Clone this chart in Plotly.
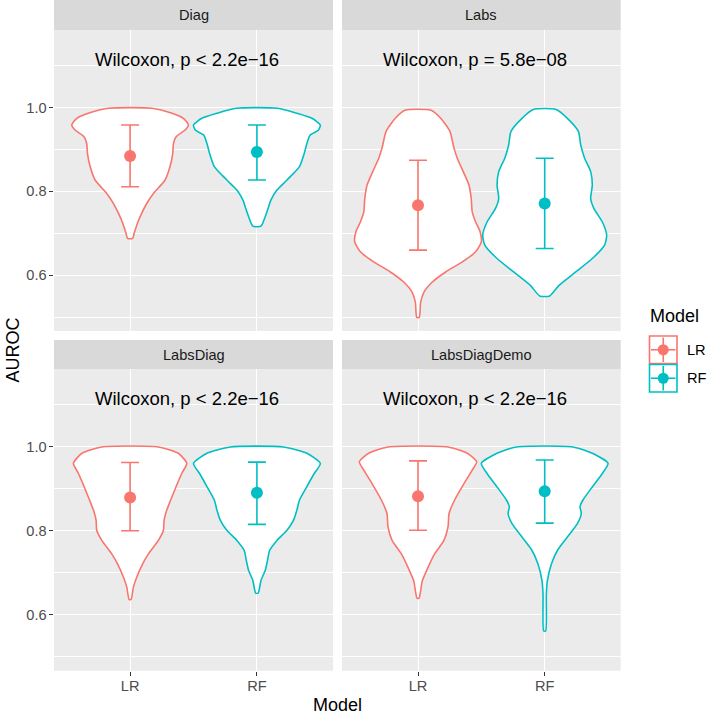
import plotly.graph_objects as go

# ---------------- data ----------------
panels = ["Diag", "Labs", "LabsDiag", "LabsDiagDemo"]
models = ["LR", "RF"]
p_labels = ["Wilcoxon, p < 2.2e\u221216", "Wilcoxon, p = 5.8e\u221208",
            "Wilcoxon, p < 2.2e\u221216", "Wilcoxon, p < 2.2e\u221216"]

# violin outlines: AUROC levels (top -> bottom) and half-widths (x units)
diag_lr_y = [0.998, 0.986, 0.974, 0.958, 0.946, 0.930, 0.914, 0.890, 0.859, 0.827, 0.795, 0.771, 0.748, 0.724, 0.700, 0.688]
diag_lr_w = [0.171, 0.330, 0.420, 0.460, 0.434, 0.363, 0.342, 0.336, 0.315, 0.276, 0.184, 0.131, 0.092, 0.058, 0.032, 0.020]
diag_rf_y = [0.998, 0.986, 0.974, 0.958, 0.946, 0.934, 0.914, 0.890, 0.859, 0.827, 0.803, 0.779, 0.763, 0.740, 0.717]
diag_rf_w = [0.163, 0.315, 0.434, 0.500, 0.486, 0.420, 0.394, 0.373, 0.336, 0.237, 0.158, 0.110, 0.092, 0.066, 0.032]

labs_lr_y = [0.993, 0.974, 0.943, 0.903, 0.879, 0.847, 0.815, 0.783, 0.751, 0.727, 0.704, 0.680, 0.656, 0.632, 0.608, 0.584, 0.560, 0.536, 0.500]
labs_lr_w = [0.103, 0.179, 0.252, 0.284, 0.310, 0.357, 0.402, 0.420, 0.428, 0.455, 0.490, 0.500, 0.455, 0.350, 0.218, 0.113, 0.047, 0.021, 0.010]
labs_rf_y = [0.995, 0.974, 0.943, 0.911, 0.879, 0.847, 0.815, 0.783, 0.759, 0.727, 0.696, 0.672, 0.640, 0.608, 0.576, 0.551]
labs_rf_w = [0.090, 0.179, 0.266, 0.284, 0.315, 0.363, 0.376, 0.363, 0.389, 0.455, 0.489, 0.473, 0.376, 0.245, 0.113, 0.040]

labsdiag_lr_y = [0.999, 0.984, 0.960, 0.936, 0.905, 0.873, 0.849, 0.825, 0.801, 0.777, 0.745, 0.722, 0.690, 0.666, 0.637]
labsdiag_lr_w = [0.223, 0.380, 0.447, 0.407, 0.363, 0.320, 0.289, 0.268, 0.263, 0.223, 0.145, 0.100, 0.053, 0.026, 0.008]
labsdiag_rf_y = [0.999, 0.984, 0.960, 0.936, 0.905, 0.873, 0.849, 0.825, 0.801, 0.777, 0.753, 0.730, 0.706, 0.682, 0.652]
labsdiag_rf_w = [0.210, 0.394, 0.500, 0.452, 0.394, 0.336, 0.315, 0.289, 0.237, 0.158, 0.100, 0.084, 0.066, 0.032, 0.010]

labsdiagdemo_lr_y = [0.999, 0.984, 0.964, 0.944, 0.912, 0.873, 0.841, 0.809, 0.777, 0.745, 0.713, 0.681, 0.640]
labsdiagdemo_lr_w = [0.237, 0.389, 0.463, 0.428, 0.363, 0.289, 0.245, 0.237, 0.205, 0.131, 0.079, 0.034, 0.008]
labsdiagdemo_rf_y = [0.999, 0.984, 0.960, 0.936, 0.904, 0.873, 0.857, 0.841, 0.817, 0.785, 0.753, 0.721, 0.681, 0.649, 0.562]
labsdiagdemo_rf_w = [0.223, 0.376, 0.500, 0.455, 0.376, 0.302, 0.279, 0.289, 0.258, 0.179, 0.100, 0.053, 0.021, 0.013, 0.008]

# mean and error-bar limits, per panel: [LR, RF]
mean_auc = [[0.884, 0.894], [0.767, 0.771], [0.879, 0.890], [0.882, 0.894]]
low_auc = [[0.811, 0.827], [0.660, 0.664], [0.800, 0.815], [0.801, 0.818]]
high_auc = [[0.958, 0.958], [0.874, 0.879], [0.962, 0.963], [0.966, 0.968]]

y_ticks = [0.6, 0.8, 1.0]
y_tick_text = ["0.6", "0.8", "1.0"]
y_minor = [0.5, 0.7, 0.9, 1.1]

violins = [
    [(diag_lr_y, diag_lr_w), (diag_rf_y, diag_rf_w)],
    [(labs_lr_y, labs_lr_w), (labs_rf_y, labs_rf_w)],
    [(labsdiag_lr_y, labsdiag_lr_w), (labsdiag_rf_y, labsdiag_rf_w)],
    [(labsdiagdemo_lr_y, labsdiagdemo_lr_w), (labsdiagdemo_rf_y, labsdiagdemo_rf_w)],
]

# ---------------- styling / layout ----------------
W, H = 708, 714
colors = ["#F8766D", "#00BFC4"]
FONT = "Liberation Sans, Arial, Helvetica, sans-serif"


def px(x):
    return x / W


def py(y):
    return 1 - y / H


col_x = [(54, 333), (342, 620.7)]
row_y = [(30, 331), (369, 670.7)]
strip_y = [(0, 30), (340, 369)]

fig = go.Figure()
shapes = []
annotations = []

for i, name in enumerate(panels):
    r, c = divmod(i, 2)
    sfx = "" if i == 0 else str(i + 1)
    xa, ya = "x" + sfx, "y" + sfx
    for j, m in enumerate(models):
        yv, wv = violins[i][j]
        cx = j + 1
        xs = [cx - w for w in wv] + [cx + w for w in reversed(wv)] + [cx - wv[0]]
        ys = list(yv) + list(reversed(yv)) + [yv[0]]
        fig.add_trace(go.Scatter(
            x=xs, y=ys, mode="lines", fill="toself", fillcolor="white",
            line=dict(color=colors[j], width=1.6, shape="spline", smoothing=0.6),
            xaxis=xa, yaxis=ya, showlegend=False, hoverinfo="skip"))
        mu = mean_auc[i][j]
        fig.add_trace(go.Scatter(
            x=[cx], y=[mu], mode="markers",
            marker=dict(color=colors[j], size=12),
            error_y=dict(type="data", symmetric=False,
                         array=[high_auc[i][j] - mu], arrayminus=[mu - low_auc[i][j]],
                         color=colors[j], thickness=1.6, width=9),
            xaxis=xa, yaxis=ya, showlegend=False, name=m))

    x0, x1 = col_x[c]
    y0, y1 = row_y[r]
    fig.layout["xaxis" + sfx] = dict(
        domain=[px(x0), px(x1)], range=[0.4, 2.6], anchor=ya,
        tickvals=[1, 2], ticktext=models,
        showticklabels=(r == 1), ticks="outside" if r == 1 else "",
        ticklen=4.5, tickwidth=1.1, tickcolor="#333333", ticklabelstandoff=-3,
        tickfont=dict(family=FONT, size=14.6, color="#4D4D4D"),
        showgrid=True, gridcolor="white", gridwidth=1.4,
        zeroline=False, showline=False, fixedrange=True)
    fig.layout["yaxis" + sfx] = dict(
        domain=[py(y1), py(y0)], range=[0.4674, 1.1843], anchor=xa,
        tickvals=y_ticks, ticktext=y_tick_text,
        showticklabels=(c == 0), ticks="outside" if c == 0 else "",
        ticklen=4.5, tickwidth=1.1, tickcolor="#333333", ticklabelstandoff=-1,
        tickfont=dict(family=FONT, size=14.6, color="#4D4D4D"),
        showgrid=True, gridcolor="white", gridwidth=1.4,
        minor=dict(tickvals=y_minor, showgrid=True, gridcolor="white", gridwidth=0.7, ticks=""),
        zeroline=False, showline=False, fixedrange=True)

    # strip
    s0, s1 = strip_y[r]
    shapes.append(dict(type="rect", xref="paper", yref="paper",
                       x0=px(x0), x1=px(x1), y0=py(s1), y1=py(s0),
                       fillcolor="#D9D9D9", line=dict(width=0), layer="below"))
    annotations.append(dict(xref="paper", yref="paper", x=px((x0 + x1) / 2), y=py((s0 + s1) / 2),
                            text=name, showarrow=False, xanchor="center", yanchor="middle",
                            font=dict(family=FONT, size=14.6, color="#1A1A1A")))
    # test label
    annotations.append(dict(xref=xa, yref=ya, x=0.71, y=1.115, text=p_labels[i],
                            showarrow=False, xanchor="left", yanchor="middle",
                            font=dict(family=FONT, size=18.5, color="black")))

# axis titles
annotations.append(dict(xref="paper", yref="paper", x=px(337.4), y=py(705), text="Model",
                        showarrow=False, xanchor="center", yanchor="middle",
                        font=dict(family=FONT, size=18, color="black")))
annotations.append(dict(xref="paper", yref="paper", x=px(13), y=py(350.4), text="AUROC",
                        showarrow=False, xanchor="center", yanchor="middle", textangle=-90,
                        font=dict(family=FONT, size=18, color="black")))

# legend (drawn manually, ggplot-style keys)
annotations.append(dict(xref="paper", yref="paper", x=px(648), y=py(316), text="Model",
                        showarrow=False, xanchor="left", yanchor="middle",
                        font=dict(family=FONT, size=18, color="black")))
key_tops = [336, 364.5]
for j, m in enumerate(models):
    kx0, kx1 = 649.5, 677
    ky0 = key_tops[j]
    ky1 = ky0 + 27.5
    kcx, kcy = (kx0 + kx1) / 2, (ky0 + ky1) / 2
    shapes.append(dict(type="rect", xref="paper", yref="paper",
                       x0=px(kx0), x1=px(kx1), y0=py(ky1), y1=py(ky0),
                       fillcolor="white", line=dict(color=colors[j], width=1.6)))
    shapes.append(dict(type="line", xref="paper", yref="paper",
                       x0=px(kx0 + 1.5), x1=px(kx1 - 1.5), y0=py(kcy), y1=py(kcy),
                       line=dict(color=colors[j], width=1.6)))
    shapes.append(dict(type="line", xref="paper", yref="paper",
                       x0=px(kcx), x1=px(kcx), y0=py(ky0 + 1.5), y1=py(ky1 - 1.5),
                       line=dict(color=colors[j], width=1.6)))
    shapes.append(dict(type="circle", xref="paper", yref="paper",
                       x0=px(kcx - 5.5), x1=px(kcx + 5.5), y0=py(kcy + 5.5), y1=py(kcy - 5.5),
                       fillcolor=colors[j], line=dict(width=0)))
    annotations.append(dict(xref="paper", yref="paper", x=px(685), y=py(kcy), text=m,
                            showarrow=False, xanchor="left", yanchor="middle",
                            font=dict(family=FONT, size=14.6, color="black")))

fig.update_layout(
    width=W, height=H, margin=dict(l=0, r=0, t=0, b=0),
    paper_bgcolor="white", plot_bgcolor="#EBEBEB",
    showlegend=False, shapes=shapes, annotations=annotations,
    font=dict(family=FONT),
)

fig.write_html("out.html", config={"displayModeBar": False},
               post_script="document.body.style.margin='0';document.body.style.overflow='hidden';")
